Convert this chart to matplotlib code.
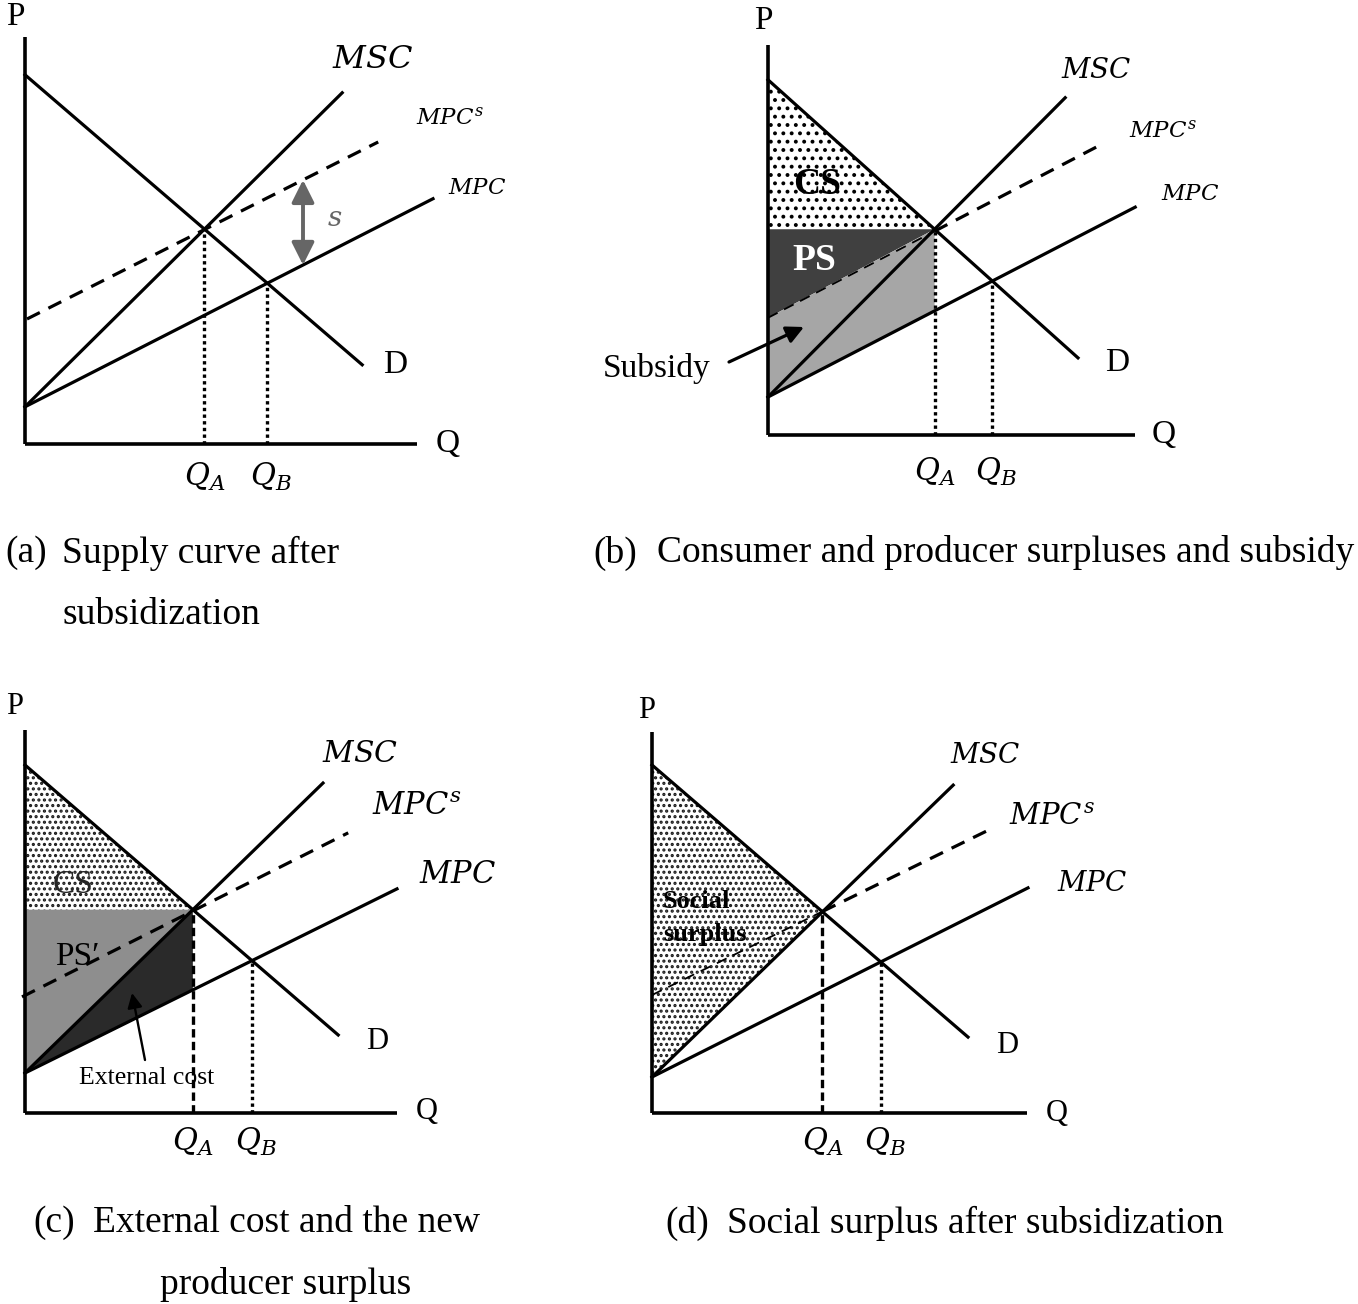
import numpy as np
import matplotlib
matplotlib.use('Agg')
import matplotlib.pyplot as plt
from matplotlib.patches import Polygon

plt.rcParams['mathtext.fontset'] = 'dejavuserif'
plt.rcParams['hatch.linewidth'] = 1.0
SERIF = ['Liberation Serif', 'DejaVu Serif']

# ---------------- data (chart units, P vs Q) ----------------
PANELS = ['a', 'b', 'c', 'd']
Q_AXIS_MAX = [9.8, 9.18, 9.3, 9.38]
P_AXIS_MAX = [10.18, 9.75, 9.58, 9.53]
D_INTERCEPT = [9.23, 8.88, 8.7, 8.7]
D_SLOPE = [-0.86, -0.897, -0.862, -0.861]
D_QMAX = [8.43, 7.75, 7.83, 7.9]
MPC_INTERCEPT = [0.93, 0.95, 1.0, 0.9]
MPC_SLOPE = [0.51, 0.517, 0.495, 0.503]
MPC_QMAX = [10.2, 9.18, 9.3, 9.4]
MSC_SLOPE = [0.99, 1.007, 0.973, 0.969]
MSC_QMAX = [7.93, 7.43, 7.45, 7.53]
MPCS_INTERCEPT = [3.1, 2.93, 2.94, 2.95]
MPCS_SLOPE = [0.504, 0.52, 0.503, 0.49]
MPCS_QMIN = [0.05, 0.0, -0.075, 0.0]
MPCS_QMAX = [8.83, 8.3, 8.08, 8.4]
SUBSIDY_ARROW_Q = 6.95

CAPTION_TAGS = ['(a)', '(b)', '(c)', '(d)']
CAPTION_LINE1 = ['Supply curve after', 'Consumer and producer surpluses and subsidy',
                 'External cost and the new', 'Social surplus after subsidization']
CAPTION_LINE2 = ['subsidization', '', 'producer surplus', '']

# ---------------- layout ----------------
W, H = 1358, 1304
U = 40.0  # px per chart unit
ORIGIN_PX = [(25, 444), (768, 435), (25, 1113), (652, 1113)]
OFF_MSC = [(30, 33), (31, 28), (37, 30), (32, 30)]
OFF_MPCS = [(72, 24), (63, 14), (69, 26), (64, 13)]
OFF_MPC = [(44, 11), (55, 14), (60, 14), (64, 5)]
OFF_D = [(33, 0), (39, -5), (39, -7), (39, -8)]
OFF_Q = [(31, 0), (28, 0), (30, 1), (30, 0)]
OFF_P = [(-10, 20), (-5, 24), (-10, 23), (-5, 21)]
FS_MSC = [23, 20, 21.5, 20]
FS_MPCS = [16.5, 16.5, 22, 21]
FS_MPC = [16.5, 16.5, 22, 20]
FS_DPQ = [24, 24, 22, 22]
QLAB_DY = [-33, -37, -29, -29]
CAP_TAG_X = [5, 593, 33, 665]
CAP_TEXT_X = [62, 657, 93, 727]
CAP_Y1 = [553, 553, 1223, 1223]
CAP_X2 = [62, 0, 160, 0]
CAP_Y2 = [615, 0, 1285, 0]

LW = 2.3


def hatched(verts, hatch, color, hlw):
    p = Polygon(verts, closed=True, facecolor='white', edgecolor=color, hatch=hatch,
                lw=0, zorder=1)
    if hasattr(p, 'set_hatch_linewidth'):
        p.set_hatch_linewidth(hlw)
    return p


fig = plt.figure(figsize=(W / 100, H / 100), dpi=100)

for i, name in enumerate(PANELS):
    ox, oy = ORIGIN_PX[i]
    ax = fig.add_axes([(ox - 2 * U) / W, (H - (oy + 2 * U)) / H, 14 * U / W, 13.5 * U / H])
    ax.set_xlim(-2, 12)
    ax.set_ylim(-2, 11.5)
    ax.axis('off')

    d0, ds = D_INTERCEPT[i], D_SLOPE[i]
    c0, ms = MPC_INTERCEPT[i], MPC_SLOPE[i]
    ss = MSC_SLOPE[i]
    s0, sss = MPCS_INTERCEPT[i], MPCS_SLOPE[i]
    qa = (d0 - c0) / (ss - ds)
    pa = c0 + ss * qa
    qb = (d0 - c0) / (ms - ds)
    pb = c0 + ms * qb

    # axes
    ax.plot([0, Q_AXIS_MAX[i]], [0, 0], color='black', lw=2.6, solid_capstyle='butt', zorder=4)
    ax.plot([0, 0], [0, P_AXIS_MAX[i]], color='black', lw=2.6, solid_capstyle='butt', zorder=4)

    # shaded areas
    if name == 'b':
        with plt.rc_context({'hatch.linewidth': 1.6}):
            ax.add_patch(hatched([(0, d0), (0, pa), (qa, pa)], '..', 'black', 1.6))
        ax.add_patch(Polygon([(0, pa), (qa, pa), (0, s0)], closed=True, facecolor='#404040',
                             lw=0, zorder=1))
        ax.add_patch(Polygon([(0, s0), (qa, pa), (qa, c0 + ms * qa), (0, c0)], closed=True,
                             facecolor='#a6a6a6', lw=0, zorder=1))
    elif name == 'c':
        with plt.rc_context({'hatch.linewidth': 1.5}):
            ax.add_patch(hatched([(0, d0), (0, pa), (qa, pa)], '...', '#1a1a1a', 1.5))
        ax.add_patch(Polygon([(0, pa), (qa, pa), (0, c0)], closed=True, facecolor='#8e8e8e',
                             lw=0, zorder=1))
        ax.add_patch(Polygon([(0, c0), (qa, pa), (qa, c0 + ms * qa)], closed=True,
                             facecolor='#2a2a2a', lw=0, zorder=1))
    elif name == 'd':
        with plt.rc_context({'hatch.linewidth': 1.5}):
            ax.add_patch(hatched([(0, d0), (qa, pa), (0, c0)], '...', '#1a1a1a', 1.5))

    # curves
    q = np.array([0, D_QMAX[i]])
    ax.plot(q, d0 + ds * q, color='black', lw=LW, zorder=3)
    q = np.array([0, MPC_QMAX[i]])
    ax.plot(q, c0 + ms * q, color='black', lw=LW, zorder=3)
    q = np.array([0, MSC_QMAX[i]])
    ax.plot(q, c0 + ss * q, color='black', lw=LW, zorder=3)
    if name in ('b', 'd'):
        q1 = np.array([MPCS_QMIN[i], qa])
        ax.plot(q1, s0 + sss * q1, color='black', lw=1.3, ls=(0, (6, 4)), zorder=3)
        q2 = np.array([qa, MPCS_QMAX[i]])
        ax.plot(q2, s0 + sss * q2, color='black', lw=LW, ls=(0, (4.5, 3)), zorder=3)
    else:
        q = np.array([MPCS_QMIN[i], MPCS_QMAX[i]])
        ax.plot(q, s0 + sss * q, color='black', lw=LW, ls=(0, (4.5, 3)), zorder=3)

    # vertical guides
    if name in ('a', 'b'):
        ls_a = (0, (1, 1))
    else:
        ls_a = (0, (2.5, 1.3))
    ax.plot([qa, qa], [0, pa], color='black', lw=2.4, ls=ls_a, zorder=3)
    ax.plot([qb, qb], [0, pb], color='black', lw=2.4, ls=(0, (1, 1)), zorder=3)

    # curve labels
    ax.annotate(r'$MSC$', xy=(MSC_QMAX[i], c0 + ss * MSC_QMAX[i]), xytext=OFF_MSC[i],
                textcoords='offset pixels', ha='center', va='center', fontsize=FS_MSC[i])
    ax.annotate(r'$MPC^s$', xy=(MPCS_QMAX[i], s0 + sss * MPCS_QMAX[i]), xytext=OFF_MPCS[i],
                textcoords='offset pixels', ha='center', va='center', fontsize=FS_MPCS[i])
    ax.annotate(r'$MPC$', xy=(MPC_QMAX[i], c0 + ms * MPC_QMAX[i]), xytext=OFF_MPC[i],
                textcoords='offset pixels', ha='center', va='center', fontsize=FS_MPC[i])
    ax.annotate('D', xy=(D_QMAX[i], d0 + ds * D_QMAX[i]), xytext=OFF_D[i],
                textcoords='offset pixels', ha='center', va='center', fontsize=FS_DPQ[i],
                family=SERIF)
    ax.annotate('Q', xy=(Q_AXIS_MAX[i], 0), xytext=OFF_Q[i], textcoords='offset pixels',
                ha='center', va='center', fontsize=FS_DPQ[i], family=SERIF)
    ax.annotate('P', xy=(0, P_AXIS_MAX[i]), xytext=OFF_P[i], textcoords='offset pixels',
                ha='center', va='center', fontsize=FS_DPQ[i], family=SERIF)
    ax.annotate(r'$Q_A$', xy=(qa, 0), xytext=(0, QLAB_DY[i]), textcoords='offset pixels',
                ha='center', va='center', fontsize=22)
    ax.annotate(r'$Q_B$', xy=(qb, 0), xytext=(4, QLAB_DY[i]), textcoords='offset pixels',
                ha='center', va='center', fontsize=22)

    # panel specific annotations
    if name == 'a':
        qs = SUBSIDY_ARROW_Q
        ax.annotate('', xy=(qs, s0 + sss * qs), xytext=(qs, c0 + ms * qs),
                    arrowprops=dict(arrowstyle='<|-|>', mutation_scale=34, lw=2.8,
                                    color='#666666', shrinkA=0, shrinkB=0), zorder=4)
        ax.text(qs + 0.8, (s0 + sss * qs + c0 + ms * qs) / 2 + 0.1, r'$s$', color='#666666',
                fontsize=20, ha='center', va='center')
    elif name == 'b':
        ax.text(1.225, 6.25, 'CS', fontsize=27, fontweight='bold', family=SERIF,
                ha='center', va='center', zorder=5)
        ax.text(1.15, 4.375, 'PS', fontsize=27, fontweight='bold', family=SERIF,
                color='white', ha='center', va='center', zorder=5)
        ax.text(-2.775, 1.675, 'Subsidy', fontsize=24, family=SERIF, ha='center',
                va='center', zorder=5)
        ax.annotate('', xy=(0.9, 2.7), xytext=(-0.975, 1.825),
                    arrowprops=dict(arrowstyle='-|>', mutation_scale=26, lw=2.3,
                                    color='black', shrinkA=0, shrinkB=0), zorder=5)
    elif name == 'c':
        ax.text(1.2, 5.7, 'CS', fontsize=24, family=SERIF, color='#262626',
                ha='center', va='center', zorder=5)
        ax.text(1.3, 3.9, 'PS\u2032', fontsize=24, family=SERIF, ha='center',
                va='center', zorder=5)
        ax.text(3.05, 0.875, 'External cost', fontsize=18.5, family=SERIF,
                ha='center', va='center', zorder=5)
        ax.annotate('', xy=(2.675, 3.0), xytext=(3.0, 1.325),
                    arrowprops=dict(arrowstyle='-|>', mutation_scale=22, lw=1.7,
                                    color='black', shrinkA=0, shrinkB=0), zorder=5)
    elif name == 'd':
        ax.text(0.275, 5.275, 'Social', fontsize=19, fontweight='bold', family=SERIF,
                ha='left', va='center', zorder=5)
        ax.text(0.275, 4.45, 'surplus', fontsize=19, fontweight='bold', family=SERIF,
                ha='left', va='center', zorder=5)

    # captions
    fig.text(CAP_TAG_X[i] / W, 1 - CAP_Y1[i] / H, CAPTION_TAGS[i], fontsize=27,
             family=SERIF, ha='left', va='center')
    fig.text(CAP_TEXT_X[i] / W, 1 - CAP_Y1[i] / H, CAPTION_LINE1[i], fontsize=27,
             family=SERIF, ha='left', va='center')
    if CAPTION_LINE2[i]:
        fig.text(CAP_X2[i] / W, 1 - CAP_Y2[i] / H, CAPTION_LINE2[i], fontsize=27,
                 family=SERIF, ha='left', va='center')

fig.savefig('out.png', dpi=100)
